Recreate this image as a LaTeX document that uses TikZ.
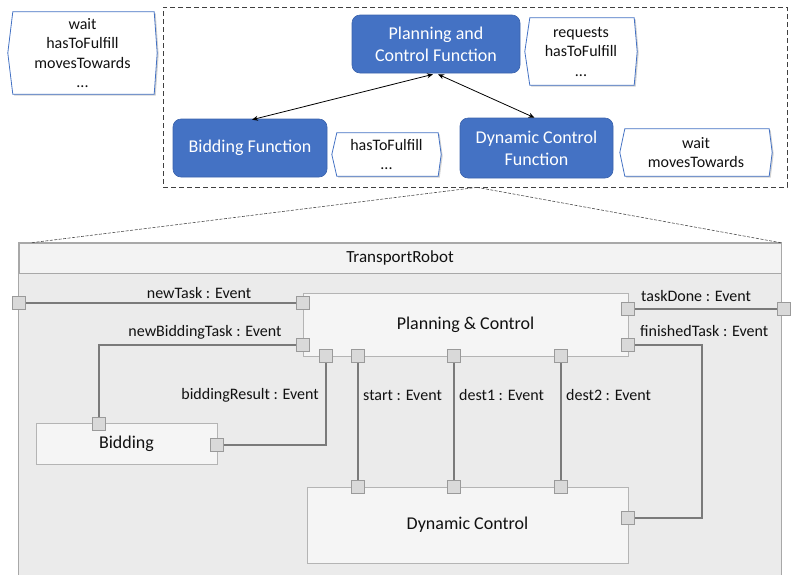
\documentclass[tikz,border=0pt]{standalone}
\usepackage{fontspec}
\setmainfont{Carlito}
\usetikzlibrary{arrows.meta,shadows}

\definecolor{fnblue}{HTML}{4472C4}
\definecolor{fnedge}{HTML}{3B63AC}
\definecolor{bodyfill}{HTML}{EBEBEB}
\definecolor{headfill}{HTML}{F3F3F3}
\definecolor{partfill}{HTML}{F5F5F5}
\definecolor{partedge}{HTML}{B4B4B4}
\definecolor{outeredge}{HTML}{A8A8A8}
\definecolor{portfill}{HTML}{D9D9D9}
\definecolor{portedge}{HTML}{9A9A9A}
\definecolor{wiregray}{HTML}{7A7A7A}
\definecolor{txt}{HTML}{111111}

\pgfdeclarelayer{ports}
\pgfsetlayers{main,ports}

\newcommand\fsz[1]{\fontsize{#1}{#1}\selectfont}

\tikzset{
  fnbox/.style={draw=fnedge, line width=0.6pt, fill=fnblue, rounded corners=8pt,
    text=white, align=center, inner sep=0pt, font=\fontsize{18}{22}\selectfont},
  calloutnode/.style={inner sep=0pt, align=center, text=txt,
    font=\fontsize{16}{19.5}\selectfont},
  calloutline/.style={draw=fnblue, line width=0.8pt, fill=white,
    drop shadow={shadow xshift=1.5pt, shadow yshift=-1.5pt, opacity=0.35}},
  frame/.style={draw=black!75, line width=0.7pt, dash pattern=on 5pt off 3pt, inner sep=0pt},
  linkarrow/.style={{Stealth[length=6pt,width=5pt]}-{Stealth[length=6pt,width=5pt]}, line width=0.8pt, black},
  zoomline/.style={draw=black!70, line width=0.6pt, dash pattern=on 3pt off 1.5pt},
  outer/.style={fill=bodyfill, inner sep=0pt},
  header/.style={fill=headfill, draw=outeredge, line width=1pt, inner sep=0pt, text=txt, font=\fsz{17}},
  part/.style={fill=partfill, draw=partedge, line width=1pt, inner sep=0pt, text=txt, font=\fsz{18}},
  port/.style={fill=portfill, draw=portedge, line width=0.9pt, minimum size=13pt, inner sep=0pt},
  wire/.style={draw=wiregray, line width=2pt},
  lbl/.style={inner sep=0pt, text=txt, font=\fsz{16}},
}

% hexagonal callout outline around a named node
\newcommand\calloutbox[1]{%
  \draw[calloutline] ([xshift=5pt]#1.north west) -- ([xshift=-3pt]#1.north east) -- (#1.east)
    -- ([xshift=-3pt]#1.south east) -- ([xshift=5pt]#1.south west) -- (#1.west) -- cycle;}

\begin{document}
\begin{tikzpicture}[x=1pt, y=-1pt]
\useasboundingbox (0,0) rectangle (793,574);

% ---------- functional view ----------
\node[frame, minimum width=624, minimum height=180] (frame) at (475,97) {};

\node[calloutnode, minimum width=149, minimum height=82] (c0) at (82.5,53) {};
\calloutbox{c0}
\node[calloutnode] at (c0) {wait\\hasToFulfill\\movesTowards\\...};

\node[fnbox, minimum width=168, minimum height=58] (plan) at (436,44) {Planning and\\Control Function};
\node[fnbox, minimum width=154, minimum height=58] (bidfn) at (250,148) {Bidding Function};
\node[fnbox, minimum width=153, minimum height=60] (dcfn) at (536.5,148) {Dynamic Control\\Function};

\node[calloutnode, minimum width=112, minimum height=67] (c1) at (581,51.5) {};
\calloutbox{c1}
\node[calloutnode] at (c1) {requests\\hasToFulfill\\...};

\node[calloutnode, minimum width=109, minimum height=43] (c2) at (386.5,154.5) {};
\calloutbox{c2}
\node[calloutnode] at (c2) {hasToFulfill\\...};

\node[calloutnode, minimum width=152, minimum height=47] (c3) at (696,152.5) {};
\calloutbox{c3}
\node[calloutnode] at (c3) {wait\\movesTowards};

\draw[linkarrow] ([xshift=-3pt,yshift=-1pt]plan.south) -- ([xshift=2pt,yshift=-1pt]bidfn.north);
\draw[linkarrow] ([xshift=2pt,yshift=-1pt]plan.south) -- ([xshift=-2pt]dcfn.north);

% ---------- TransportRobot composite structure ----------
\node[outer, minimum width=762, minimum height=357] (robot) at (400,421.5) {};
\draw[outeredge, line width=1pt] (robot.south west) -- (robot.north west) -- (robot.north east) -- (robot.south east);
\node[header, minimum width=762, minimum height=30] (head) at (400,258) {TransportRobot};

\draw[zoomline] ([xshift=2pt]frame.south) -- ([xshift=12pt]robot.north west);
\draw[zoomline] ([xshift=2pt]frame.south) -- (robot.north east);

\node[part, minimum width=325, minimum height=63] (pc) at (465.5,324.5) {Planning \& Control};
\node[part, minimum width=181, minimum height=41] (bid) at (126.5,443.5) {Bidding};
\node[part, minimum width=321, minimum height=76] (dc) at (467.5,525) {Dynamic Control};

% ports sit on their own layer above the wires
\begin{pgfonlayer}{ports}
\begin{scope}[every node/.style={port}]
\node (pIn) at (19,303) {};
\node (pOut) at (784,309) {};
\node (pNT) at (303,303) {};
\node (pNBT) at (303,344.5) {};
\node (pBR) at (326,356) {};
\node (pSt) at (358,356) {};
\node (pD1) at (453.5,356) {};
\node (pD2) at (561,356) {};
\node (pTD) at (628,309) {};
\node (pFT) at (628,344.5) {};
\node (bTop) at (99,424) {};
\node (bRight) at (217,444.5) {};
\node (dSt) at (358,487) {};
\node (dD1) at (453.5,487) {};
\node (dD2) at (561,487) {};
\node (dRight) at (628,518) {};
\end{scope}
\end{pgfonlayer}

\coordinate (ftbend) at (702,344.5);

\draw[wire] (pIn.center) -- (pNT.center);
\draw[wire] (pNBT.center) -| (bTop.center);
\draw[wire] (bRight.center) -| (pBR.center);
\draw[wire] (pSt.center) -- (dSt.center);
\draw[wire] (pD1.center) -- (dD1.center);
\draw[wire] (pD2.center) -- (dD2.center);
\draw[wire] (pTD.center) -- (pOut.center);
\draw[wire] (pFT.center) -- (ftbend) |- (dRight.center);

\node[lbl] (lNT) at (199,293) {newTask : Event};
\node[lbl] (lNBT) at (205,332) {newBiddingTask : Event};
\node[lbl, anchor=east] (lBR) at (319,395) {biddingResult : Event};
\node[lbl, anchor=west] (lSt) at (363,395) {start : Event};
\node[lbl, anchor=west] (lD1) at (459,395) {dest1 : Event};
\node[lbl, anchor=west] (lD2) at (566,395) {dest2 : Event};
\node[lbl, anchor=west] (lTD) at (641,296) {taskDone : Event};
\node[lbl, anchor=west] (lFT) at (640,331) {finishedTask : Event};
\end{tikzpicture}
\end{document}
